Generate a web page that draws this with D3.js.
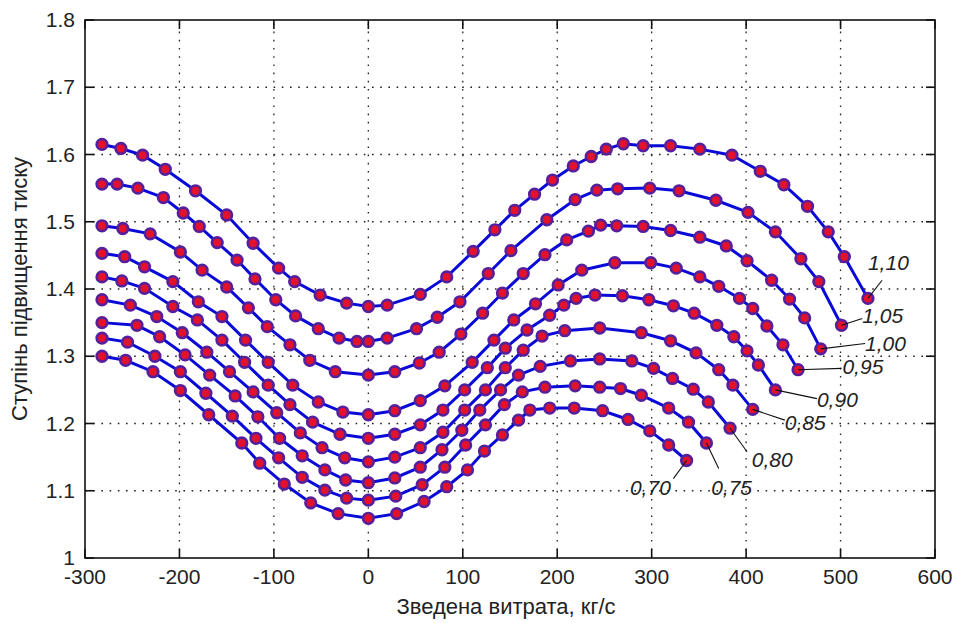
<!DOCTYPE html>
<html>
<head>
<meta charset="utf-8">
<script src="https://d3js.org/d3.v7.min.js"></script>
<style>
  body { margin: 0; background: #fff; }
  text { font-family: "Liberation Sans", Arial, sans-serif; fill: #222; }
</style>
</head>
<body>
<script>
// curve names (shown as labels at the end of each curve)
const levels = ["0,70", "0,75", "0,80", "0,85", "0,90", "0,95", "1,00", "1,05", "1,10"];

const x070 = [-282,-257,-228,-199,-169,-134,-115,-89,-61,-32,0,30,59,83,105,123,142,159,171,192,218,248,275,298,318,337];
const y070 = [1.300,1.294,1.277,1.249,1.213,1.171,1.141,1.110,1.082,1.066,1.059,1.066,1.084,1.106,1.131,1.159,1.183,1.205,1.220,1.223,1.223,1.219,1.206,1.189,1.168,1.145];

const x075 = [-282,-255,-226,-199,-172,-144,-119,-95,-70,-46,-23,0,29,57,81,103,124,144,163,187,219,245,267,289,318,339,358];
const y075 = [1.327,1.321,1.300,1.277,1.245,1.211,1.178,1.149,1.120,1.101,1.089,1.086,1.092,1.109,1.135,1.168,1.198,1.228,1.247,1.254,1.256,1.254,1.252,1.242,1.223,1.202,1.171];

const x080 = [-282,-245,-221,-194,-168,-141,-117,-94,-70,-46,-24,0,28,55,78,99,118,140,159,182,214,245,279,302,322,344,360,383];
const y080 = [1.350,1.346,1.329,1.302,1.272,1.241,1.210,1.178,1.152,1.131,1.116,1.112,1.119,1.135,1.161,1.190,1.220,1.250,1.272,1.285,1.293,1.296,1.293,1.282,1.267,1.251,1.232,1.193];

const x085 = [-282,-252,-224,-197,-171,-147,-122,-97,-72,-49,-25,0,28,55,79,102,124,145,164,184,208,245,289,320,347,371,386,407];
const y085 = [1.384,1.376,1.359,1.335,1.306,1.277,1.247,1.216,1.186,1.164,1.149,1.143,1.150,1.164,1.187,1.220,1.250,1.283,1.309,1.330,1.338,1.342,1.335,1.323,1.305,1.280,1.257,1.221];

const x090 = [-282,-261,-237,-207,-181,-155,-131,-106,-83,-59,-30,0,28,55,79,102,126,145,168,192,207,220,240,269,297,323,345,369,387,401,413,431];
const y090 = [1.418,1.412,1.401,1.374,1.354,1.324,1.291,1.257,1.228,1.202,1.184,1.178,1.184,1.198,1.220,1.250,1.283,1.312,1.339,1.361,1.376,1.386,1.391,1.390,1.384,1.375,1.364,1.346,1.329,1.308,1.287,1.250];

const x095 = [-282,-258,-237,-207,-180,-155,-130,-106,-80,-53,-27,0,28,55,81,110,133,154,177,201,226,261,299,326,351,371,393,407,422,439,455];
const y095 = [1.453,1.448,1.433,1.411,1.381,1.359,1.324,1.291,1.257,1.232,1.217,1.213,1.219,1.234,1.256,1.291,1.324,1.354,1.378,1.406,1.428,1.439,1.439,1.431,1.418,1.404,1.386,1.371,1.345,1.317,1.280];

const x100 = [-282,-260,-231,-199,-176,-150,-127,-107,-83,-62,-35,0,28,54,75,98,121,142,164,187,210,233,246,263,291,320,351,379,401,427,446,462,479];
const y100 = [1.494,1.490,1.482,1.455,1.428,1.403,1.372,1.344,1.317,1.294,1.277,1.272,1.277,1.290,1.306,1.333,1.364,1.394,1.423,1.451,1.473,1.486,1.495,1.494,1.493,1.487,1.477,1.464,1.442,1.413,1.385,1.357,1.311];

const x105 = [-282,-266,-244,-217,-196,-179,-160,-139,-120,-98,-77,-53,-31,-12,0,20,51,73,97,127,151,189,219,242,264,298,329,368,402,431,458,477,501];
const y105 = [1.556,1.556,1.550,1.536,1.513,1.493,1.469,1.443,1.415,1.384,1.360,1.341,1.327,1.322,1.322,1.327,1.341,1.358,1.381,1.423,1.457,1.503,1.533,1.547,1.549,1.550,1.546,1.532,1.514,1.485,1.445,1.411,1.346];

const x110 = [-282,-262,-239,-215,-183,-150,-122,-95,-78,-51,-23,0,20,55,83,111,134,155,176,195,217,236,252,270,291,320,351,385,415,440,465,487,504,529];
const y110 = [1.615,1.609,1.599,1.578,1.546,1.510,1.468,1.431,1.411,1.391,1.379,1.374,1.376,1.392,1.418,1.456,1.488,1.517,1.541,1.562,1.583,1.597,1.608,1.616,1.613,1.613,1.608,1.599,1.575,1.555,1.523,1.485,1.448,1.386];

const xTicks = [-300, -200, -100, 0, 100, 200, 300, 400, 500, 600];
const yTicks = [1, 1.1, 1.2, 1.3, 1.4, 1.5, 1.6, 1.7, 1.8];
const xTitle = "Зведена витрата, кг/с";
const yTitle = "Ступінь підвищення тиску";

// label text spot and leader end, per curve (data units)
const noteX  = [277, 363, 406, 441, 475, 502, 526, 523, 529];
const noteY  = [1.105, 1.105, 1.147, 1.201, 1.236, 1.285, 1.319, 1.360, 1.439];
const leadX  = [323, 371, 401, 441, 475, 501, 526, 523, 544];
const leadY  = [1.118, 1.133, 1.158, 1.205, 1.237, 1.282, 1.319, 1.356, 1.413];

const xs = [x070, x075, x080, x085, x090, x095, x100, x105, x110];
const ys = [y070, y075, y080, y085, y090, y095, y100, y105, y110];
const series = levels.map((name, i) => ({
  name: name,
  pts: xs[i].map((x, j) => [x, ys[i][j]])
}));

const W = 957, H = 623;
const pl = 85, pr = 935, pt = 20, pb = 558;

const svg = d3.select('body').append('svg')
  .attr('width', W).attr('height', H)
  .style('background', '#fff');

const x = d3.scaleLinear().domain([-300, 600]).range([pl, pr]);
const y = d3.scaleLinear().domain([1, 1.8]).range([pb, pt]);

// dotted grid
const grid = svg.append('g')
  .attr('stroke', '#222').attr('stroke-width', 1.3)
  .attr('stroke-dasharray', '1.6,6.6');
grid.selectAll('.gx').data(xTicks.slice(1, -1)).enter().append('line')
  .attr('x1', d => x(d)).attr('x2', d => x(d))
  .attr('y1', pb).attr('y2', pt);
grid.selectAll('.gy').data(yTicks.slice(1, -1)).enter().append('line')
  .attr('y1', d => y(d)).attr('y2', d => y(d))
  .attr('x1', pl).attr('x2', pr);

// curves
const line = d3.line().x(d => x(d[0])).y(d => y(d[1]));
series.forEach(s => {
  svg.append('path').datum(s.pts)
    .attr('d', line)
    .attr('fill', 'none')
    .attr('stroke', '#0a0ad8')
    .attr('stroke-width', 3);
  svg.append('g').selectAll('circle').data(s.pts).enter().append('circle')
    .attr('cx', d => x(d[0])).attr('cy', d => y(d[1]))
    .attr('r', 5.3)
    .attr('fill', '#e2122c')
    .attr('stroke', '#55209c')
    .attr('stroke-width', 2.7);
});

// leaders and labels
const notes = svg.append('g');
series.forEach((s, i) => {
  const last = s.pts[s.pts.length - 1];
  notes.append('line')
    .attr('x1', x(last[0])).attr('y1', y(last[1]))
    .attr('x2', x(leadX[i])).attr('y2', y(leadY[i]))
    .attr('stroke', '#111').attr('stroke-width', 1.1);
  notes.append('text')
    .attr('x', x(noteX[i])).attr('y', y(noteY[i]))
    .attr('dy', '0.36em')
    .style('font-size', '21px').style('font-style', 'italic')
    .text(s.name);
});

// axes box with inner ticks on all four sides
const axes = svg.append('g');
axes.append('rect')
  .attr('x', pl).attr('y', pt)
  .attr('width', pr - pl).attr('height', pb - pt)
  .attr('fill', 'none').attr('stroke', '#111').attr('stroke-width', 1.6);

const tl = 9;
xTicks.forEach(t => {
  axes.append('line').attr('x1', x(t)).attr('x2', x(t)).attr('y1', pb).attr('y2', pb - tl)
    .attr('stroke', '#111').attr('stroke-width', 1.6);
  axes.append('line').attr('x1', x(t)).attr('x2', x(t)).attr('y1', pt).attr('y2', pt + tl)
    .attr('stroke', '#111').attr('stroke-width', 1.6);
});
yTicks.forEach(t => {
  axes.append('line').attr('y1', y(t)).attr('y2', y(t)).attr('x1', pl).attr('x2', pl + tl)
    .attr('stroke', '#111').attr('stroke-width', 1.6);
  axes.append('line').attr('y1', y(t)).attr('y2', y(t)).attr('x1', pr).attr('x2', pr - tl)
    .attr('stroke', '#111').attr('stroke-width', 1.6);
});

axes.selectAll('.xl').data(xTicks).enter().append('text')
  .attr('x', d => x(d)).attr('y', 584)
  .attr('text-anchor', 'middle')
  .style('font-size', '21px')
  .text(d => d);
axes.selectAll('.yl').data(yTicks).enter().append('text')
  .attr('x', pl - 10).attr('y', d => y(d))
  .attr('dy', '0.34em')
  .attr('text-anchor', 'end')
  .style('font-size', '21px')
  .text(d => d);

svg.append('text')
  .attr('x', 506).attr('y', 614)
  .attr('text-anchor', 'middle')
  .style('font-size', '22px')
  .text(xTitle);
svg.append('text')
  .attr('transform', 'translate(27,' + ((pt + pb) / 2) + ') rotate(-90)')
  .attr('text-anchor', 'middle')
  .style('font-size', '22px')
  .text(yTitle);
</script>
</body>
</html>
